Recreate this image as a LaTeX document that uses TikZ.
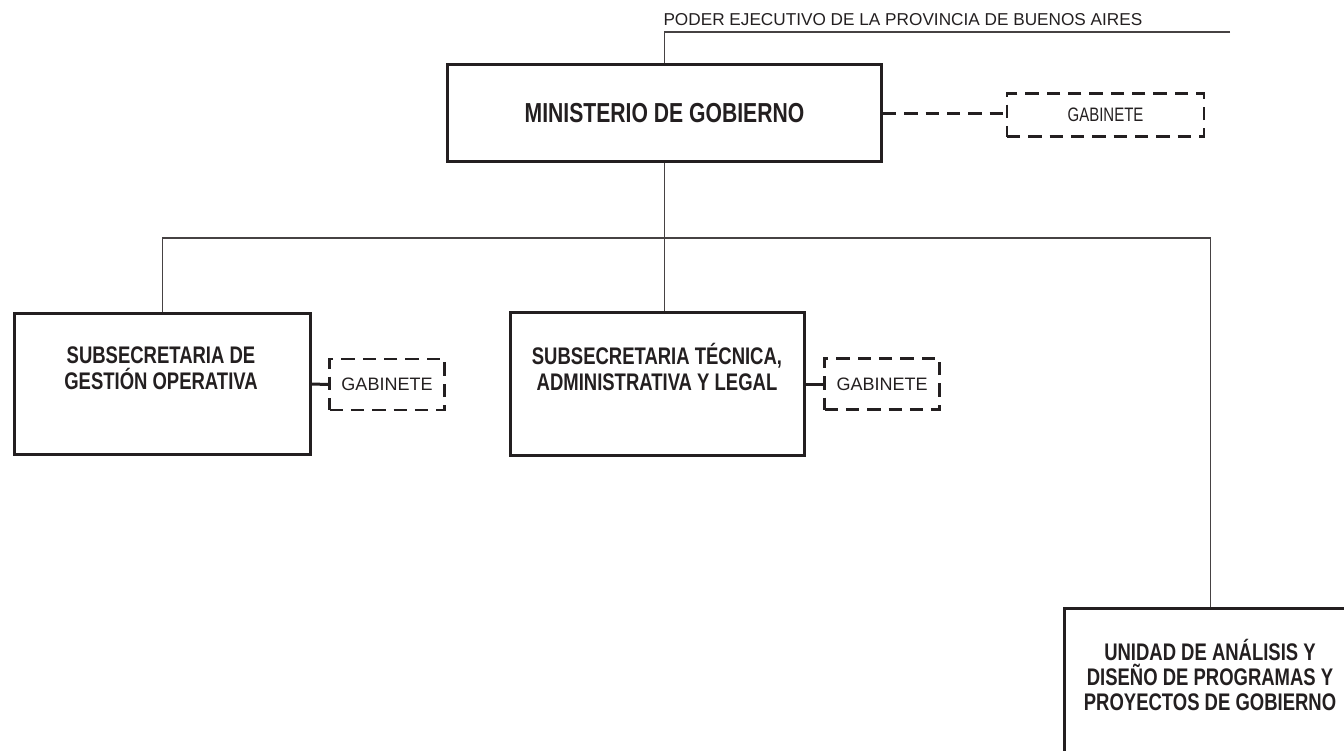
\documentclass[tikz,border=0pt]{standalone}
\usepackage{fontspec}
\setmainfont{Liberation Sans}
\newfontfamily\narrowfont[FakeStretch=0.77]{Liberation Sans}

\definecolor{inkdark}{RGB}{35,31,32}
\definecolor{inkline}{RGB}{70,66,67}

\tikzset{every picture/.style={line width=0.75pt}}
\tikzset{
  unitbox/.style={draw=inkdark, line width=2.25pt, inner sep=0pt},
  gabbox/.style={draw=inkdark, line width=2pt, dash pattern={on 10pt off 6pt}, inner sep=0pt, text=inkdark},
  unittext/.style={text=inkdark, align=center, inner sep=0.75pt, font=\narrowfont\bfseries\fontsize{18}{19.5}\selectfont},
  wire/.style={draw=inkline, line width=1.1pt},
  gabwire/.style={draw=inkdark, line width=2.25pt}
}

\begin{document}
\begin{tikzpicture}[x=0.75pt,y=0.75pt,yscale=-1,xscale=1]
\useasboundingbox (0,0) rectangle (1344,750);

% Text Node
\node [anchor=west, inner sep=0pt, text=inkdark, font=\fontsize{12.9}{14}\selectfont] (poder) at (663,19.5) {PODER EJECUTIVO DE LA PROVINCIA DE BUENOS AIRES};
\coordinate (poderend) at (1230,32);

%Shape: Rectangle [ministerio]
\node [unitbox, minimum width=325.5pt, minimum height=72.75pt, text=inkdark, font=\narrowfont\bfseries\fontsize{20.6}{24}\selectfont] (ministerio) at (664.5,113) {MINISTERIO DE GOBIERNO};
%Shape: Rectangle [gabinete]
\node [gabbox, minimum width=147.75pt, minimum height=32.25pt, font=\narrowfont\fontsize{14.6}{16}\selectfont] (gabmin) at (1105.5,115) {GABINETE};

%Shape: Rectangle [subsecretarias]
\node [unitbox, minimum width=222pt, minimum height=105.75pt] (subgestion) at (162.5,384) {};
\node [unittext] (subgestiontxt) at (161,368) {SUBSECRETARIA DE\\GESTIÓN OPERATIVA};
\node [gabbox, minimum width=86.25pt, minimum height=38.25pt, font=\fontsize{13.5}{15}\selectfont] (gabgestion) at (387,384.5) {GABINETE};

\node [unitbox, minimum width=220.5pt, minimum height=107.25pt] (subtecnica) at (657.5,384) {};
\node [unittext] (subtecnicatxt) at (657,367) {SUBSECRETARIA TÉCNICA,\\ADMINISTRATIVA Y LEGAL};
\node [gabbox, minimum width=86.25pt, minimum height=38.25pt, font=\fontsize{13.5}{15}\selectfont] (gabtecnica) at (882,384) {GABINETE};

%Shape: Rectangle [unidad]
\node [unitbox, minimum width=219pt, minimum height=150pt] (unidad) at (1210.5,708.5) {};
\node [unittext, font=\narrowfont\bfseries\fontsize{18}{18.75}\selectfont] (unidadtxt) at (1210,675) {UNIDAD DE ANÁLISIS Y\\DISEÑO DE PROGRAMAS Y\\PROYECTOS DE GOBIERNO};

%Straight Lines
\coordinate (bus) at (665,238);
\draw [wire] (poderend) -| (ministerio.north);
\draw [wire] (ministerio.south) -- (ministerio.south |- subtecnica.north);
\draw [wire] (subgestion.north) |- (bus) -| (unidad.north);
\draw [gabwire, dash pattern={on 10pt off 6pt}] (ministerio.east) -- (ministerio.east -| gabmin.west);
\draw [gabwire] (subgestion.east) -- (gabgestion.west);
\draw [gabwire] (subtecnica.east) -- (gabtecnica.west);

\end{tikzpicture}
\end{document}
